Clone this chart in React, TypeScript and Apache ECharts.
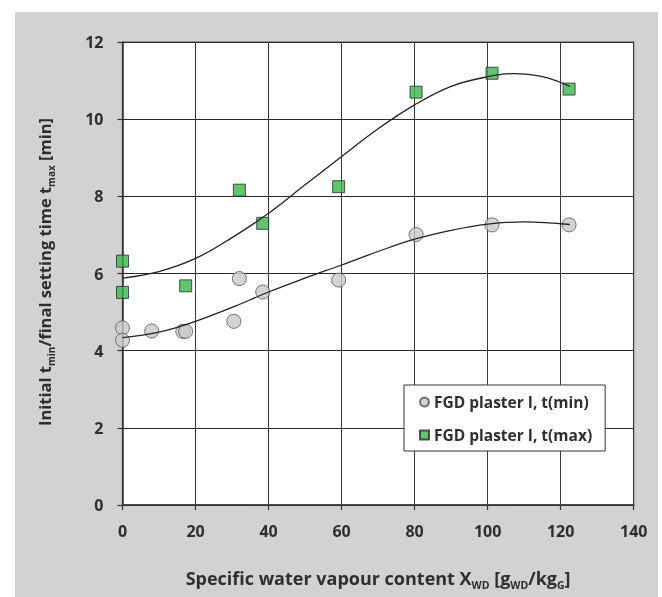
import React, { useEffect, useRef } from "react";
import * as echarts from "echarts";

const tMinX = [0, 0, 8.0, 16.5, 17.3, 30.5, 32.0, 38.4, 59.2, 80.4, 101.2, 122.3];
const tMinY = [4.59, 4.27, 4.51, 4.5, 4.5, 4.76, 5.87, 5.52, 5.83, 7.01, 7.26, 7.26];
const tMaxX = [0, 0, 17.3, 32.0, 38.4, 59.2, 80.4, 101.2, 122.3];
const tMaxY = [6.32, 5.51, 5.68, 8.16, 7.3, 8.25, 10.7, 11.19, 10.78];

const fitMinX = [0, 10, 20, 30, 40, 50, 60, 70, 80, 90, 100, 110, 122.5];
const fitMinY = [4.34, 4.48, 4.76, 5.12, 5.52, 5.88, 6.22, 6.57, 6.89, 7.12, 7.28, 7.34, 7.27];
const fitMaxX = [0, 10, 20, 30, 40, 50, 60, 70, 80, 90, 100, 107, 115, 122.5];
const fitMaxY = [5.88, 6.05, 6.39, 6.93, 7.56, 8.3, 9.03, 9.75, 10.37, 10.85, 11.1, 11.18, 11.1, 10.85];

const seriesNames = ["FGD plaster I, t(min)", "FGD plaster I, t(max)"];

const FONT = "'Open Sans', sans-serif";
const TXT = "#2e2e2e";

const zip = (xs: number[], ys: number[]) => xs.map((x, i) => [x, ys[i]]);

export default function App() {
  const ref = useRef<HTMLDivElement>(null);
  useEffect(() => {
    if (!ref.current) return;
    const chart = echarts.init(ref.current, null, { renderer: "svg" });
    const richX = {
      m: { fontSize: 18, fontWeight: "bold", fill: TXT, color: TXT, fontFamily: FONT, lineHeight: 25 },
      s: { fontSize: 10.5, fontWeight: "bold", fill: TXT, color: TXT, fontFamily: FONT, verticalAlign: "bottom" },
    };
    const richY = {
      m: { fontSize: 16.5, fontWeight: "bold", fill: TXT, color: TXT, fontFamily: FONT, lineHeight: 24 },
      s: { fontSize: 10, fontWeight: "bold", fill: TXT, color: TXT, fontFamily: FONT, verticalAlign: "bottom" },
    };
    chart.setOption({
      animation: false,
      textStyle: { fontFamily: FONT },
      graphic: [
        {
          type: "rect",
          z: -10,
          silent: true,
          shape: { x: 15, y: 12, width: 643, height: 600 },
          style: { fill: "#d1d2d4" },
        },
        {
          type: "text",
          x: 44,
          y: 272,
          rotation: Math.PI / 2,
          z: 10,
          style: {
            text: "{m|Initial t}{s|min}{m|/final setting time t}{s|max}{m| [min]}",
            rich: richY,
            align: "center",
            verticalAlign: "middle",
            fill: TXT,
          },
        },
      ],
      grid: {
        left: 122.5,
        top: 42,
        right: 28.3,
        bottom: 92,
        show: true,
        backgroundColor: "#ffffff",
        borderColor: "#808080",
        borderWidth: 1.5,
      },
      legend: {
        data: seriesNames,
        orient: "vertical",
        left: 404,
        top: 385,
        backgroundColor: "#ffffff",
        borderColor: "#333333",
        borderWidth: 1,
        borderRadius: 0,
        padding: [9, 13, 8, 15],
        itemGap: 17,
        itemWidth: 9,
        itemHeight: 9,
        textStyle: { fontSize: 15.5, fontWeight: "bold", color: TXT, fontFamily: FONT, lineHeight: 16 },
      },
      xAxis: {
        type: "value",
        min: 0,
        max: 140,
        interval: 20,
        name: "{m|Specific water vapour content X}{s|WD}{m| [g}{s|WD}{m|/kg}{s|G}{m|]}",
        nameLocation: "middle",
        nameGap: 60,
        nameTextStyle: { rich: richX },
        axisLine: { show: true, lineStyle: { color: "#333", width: 1.5 } },
        axisTick: { show: true, length: 5, lineStyle: { color: "#333", width: 1.2 } },
        axisLabel: { fontSize: 16, fontWeight: "bold", color: TXT, margin: 18, fontFamily: FONT },
        splitLine: { show: true, lineStyle: { color: "#3a3a3a", width: 1 } },
      },
      yAxis: {
        type: "value",
        min: 0,
        max: 12,
        interval: 2,
        axisLine: { show: true, lineStyle: { color: "#333", width: 1.5 } },
        axisTick: { show: true, length: 5, lineStyle: { color: "#333", width: 1.2 } },
        axisLabel: { fontSize: 16, fontWeight: "bold", color: TXT, margin: 19, fontFamily: FONT },
        splitLine: { show: true, lineStyle: { color: "#2a2a2a", width: 1 } },
      },
      series: [
        {
          name: seriesNames[0],
          type: "scatter",
          symbol: "circle",
          symbolSize: 14,
          itemStyle: { color: "#c8c9cc", borderColor: "#555", borderWidth: 1 },
          data: zip(tMinX, tMinY),
          z: 2,
        },
        {
          name: seriesNames[1],
          type: "scatter",
          symbol: "rect",
          symbolSize: 12,
          itemStyle: { color: "#3bb54a", borderColor: "#2a2a2a", borderWidth: 1 },
          data: zip(tMaxX, tMaxY),
          z: 2,
        },
        {
          name: "fitMin",
          type: "line",
          smooth: 0.4,
          showSymbol: false,
          symbol: "none",
          lineStyle: { color: "#222", width: 1.3 },
          data: zip(fitMinX, fitMinY),
          z: 3,
        },
        {
          name: "fitMax",
          type: "line",
          smooth: 0.4,
          showSymbol: false,
          symbol: "none",
          lineStyle: { color: "#222", width: 1.3 },
          data: zip(fitMaxX, fitMaxY),
          z: 3,
        },
      ],
    });
    return () => chart.dispose();
  }, []);
  return (
    <div
      ref={ref}
      style={{ position: "fixed", left: 0, top: 0, width: 662, height: 597 }}
    />
  );
}
